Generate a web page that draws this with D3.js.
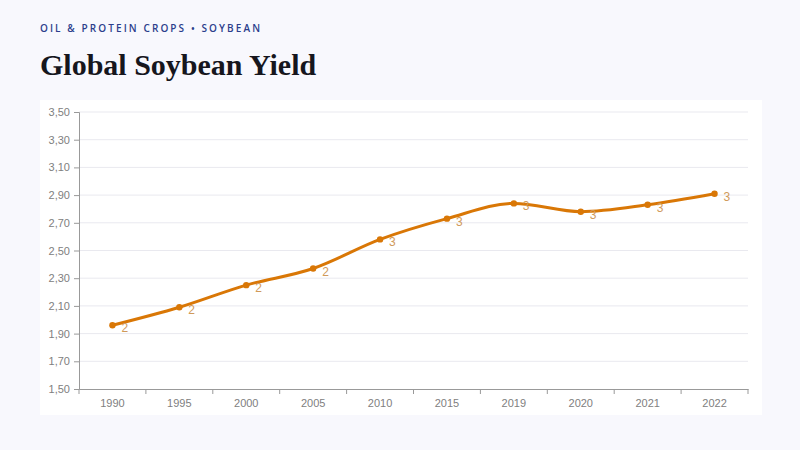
<!DOCTYPE html>
<html>
<head>
<meta charset="utf-8">
<script src="https://cdn.jsdelivr.net/npm/d3@7/dist/d3.min.js"></script>
<style>
  html, body { margin: 0; padding: 0; background: #f8f8fd; }
  svg { display: block; }
</style>
</head>
<body>
<svg id="chart" width="800" height="450"></svg>
<script>
const categories = ["1990","1995","2000","2005","2010","2015","2019","2020","2021","2022"];
const yieldValues = [1.96, 2.09, 2.25, 2.37, 2.58, 2.73, 2.84, 2.78, 2.83, 2.91];
const yTicks = [1.5, 1.7, 1.9, 2.1, 2.3, 2.5, 2.7, 2.9, 3.1, 3.3, 3.5];

const svg = d3.select("#chart");
const W = 800, H = 450;

svg.append("rect").attr("width", W).attr("height", H).attr("fill", "#f8f8fd");

svg.append("text")
  .attr("x", 40).attr("y", 32)
  .attr("font-family", "'Open Sans', 'DejaVu Sans', sans-serif")
  .attr("font-size", 10).attr("font-weight", 600)
  .attr("letter-spacing", "2.1px")
  .attr("fill", "#2c3e8c")
  .text("OIL & PROTEIN CROPS • SOYBEAN");

svg.append("text")
  .attr("x", 40).attr("y", 75)
  .attr("font-family", "'Liberation Serif', 'DejaVu Serif', serif")
  .attr("font-size", 30).attr("font-weight", 700)
  .attr("fill", "#16161d")
  .text("Global Soybean Yield");

// panel
svg.append("rect")
  .attr("x", 40).attr("y", 100).attr("width", 722).attr("height", 315)
  .attr("fill", "#ffffff");

const m = { left: 79, right: 748, top: 112, bottom: 389 };

const x = d3.scaleBand().domain(categories).range([m.left, m.right]).padding(0);
const y = d3.scaleLinear().domain([1.5, 3.5]).range([m.bottom, m.top]);

// grid
svg.append("g").selectAll("line").data(yTicks.slice(1)).join("line")
  .attr("x1", m.left).attr("x2", m.right)
  .attr("y1", d => y(d)).attr("y2", d => y(d))
  .attr("stroke", "#e9e9ef").attr("stroke-width", 1);

const fmt = d => d.toFixed(2).replace(".", ",");

const yAxis = svg.append("g")
  .attr("transform", `translate(${m.left},0)`)
  .call(d3.axisLeft(y).tickValues(yTicks).tickFormat(fmt).tickSize(5).tickPadding(4));
yAxis.select(".domain").attr("stroke", "#999");
yAxis.selectAll(".tick line").attr("stroke", "#999");
yAxis.selectAll(".tick text")
  .attr("font-family", "'Liberation Sans', Arial, sans-serif")
  .attr("font-size", 11).attr("fill", "#808080");

const xAxis = svg.append("g")
  .attr("transform", `translate(0,${m.bottom})`)
  .call(d3.axisBottom(x).tickSize(0).tickPadding(10));
xAxis.select(".domain").attr("stroke", "#999");
xAxis.selectAll(".tick text")
  .attr("font-family", "'Liberation Sans', Arial, sans-serif")
  .attr("font-size", 11).attr("fill", "#808080");
// boundary ticks
const bounds = categories.map(c => x(c)).concat([m.right]);
svg.append("g").selectAll("line").data(bounds).join("line")
  .attr("x1", d => d).attr("x2", d => d)
  .attr("y1", m.bottom).attr("y2", m.bottom + 5)
  .attr("stroke", "#999");

const pts = categories.map((c, i) => ({ c, v: yieldValues[i] }));
const cx = d => x(d.c) + x.bandwidth() / 2;

const line = d3.line().x(cx).y(d => y(d.v)).curve(d3.curveMonotoneX);

svg.append("path").datum(pts)
  .attr("d", line)
  .attr("fill", "none")
  .attr("stroke", "#d97706")
  .attr("stroke-width", 3)
  .attr("stroke-linejoin", "round");

svg.append("g").selectAll("circle").data(pts).join("circle")
  .attr("cx", cx).attr("cy", d => y(d.v)).attr("r", 3.2)
  .attr("fill", "#d97706");

svg.append("g").selectAll("text").data(pts).join("text")
  .attr("x", d => cx(d) + 9).attr("y", d => y(d.v) + 7)
  .attr("font-family", "'Liberation Sans', Arial, sans-serif")
  .attr("font-size", 12).attr("fill", "#d09a5a")
  .text(d => Math.round(d.v));
</script>
</body>
</html>
